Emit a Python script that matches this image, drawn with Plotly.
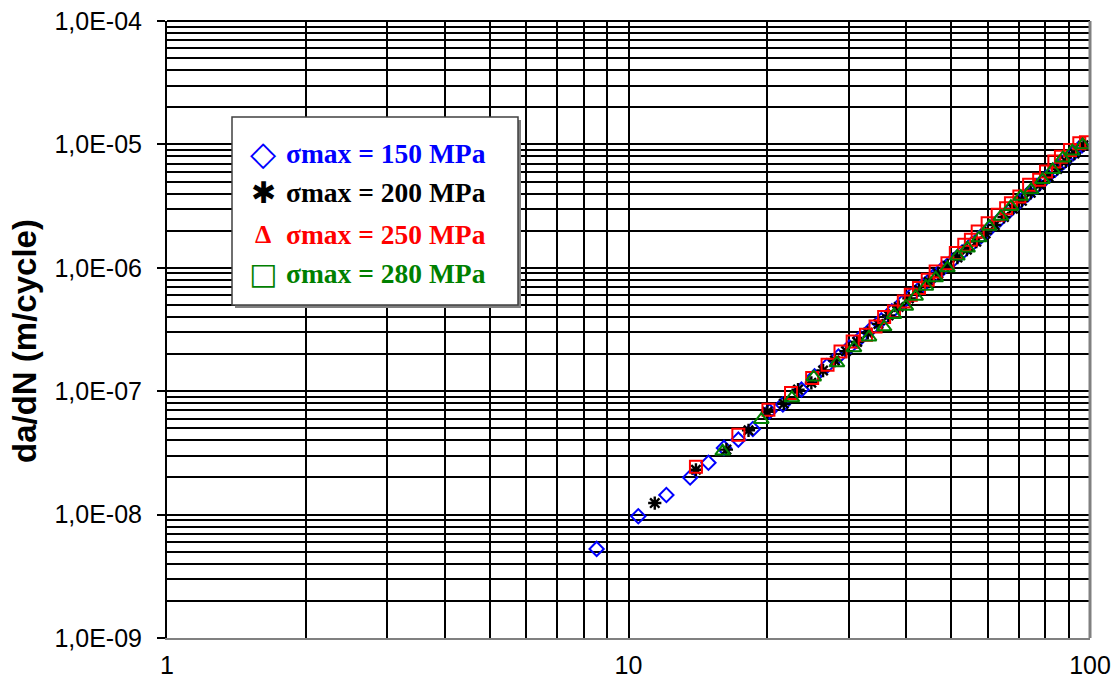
import plotly.graph_objects as go

# ---------------- data ----------------
dk_150 = [8.53, 10.5, 12.08, 13.6, 14.9, 16.1, 17.3, 18.6, 20.2, 21.6, 23.7, 25.3, 26.9, 28.5, 30.1,
          31.8, 33.5, 35.3, 37.2, 39.2, 41.3, 43.4, 45.6, 47.9, 50.3, 52.8, 55.4, 58.1, 60.9, 63.8,
          66.8, 70.0, 73.3, 76.7, 80.3, 84.0, 87.9, 92.0, 96.2]
dadn_150 = [5.27e-9, 9.7e-9, 1.44e-8, 2.0e-8, 2.63e-8, 3.47e-8, 4.05e-8, 4.94e-8, 6.87e-8, 7.8e-8,
            1.03e-7, 1.32e-7, 1.60e-7, 1.91e-7, 2.27e-7, 2.70e-7, 3.18e-7, 3.75e-7, 4.43e-7, 5.22e-7,
            6.15e-7, 7.19e-7, 8.40e-7, 9.80e-7, 1.14e-6, 1.33e-6, 1.55e-6, 1.80e-6, 2.11e-6, 2.47e-6,
            2.88e-6, 3.38e-6, 3.94e-6, 4.59e-6, 5.36e-6, 6.24e-6, 7.27e-6, 8.47e-6, 9.85e-6]

dk_200 = [11.4, 14.0, 16.3, 18.2, 20.0, 21.7, 23.3, 24.9, 26.4, 28.0, 29.6, 31.3, 33.0, 34.8, 36.6,
          38.5, 40.5, 42.6, 44.7, 46.9, 49.2, 51.6, 54.1, 56.7, 59.4, 62.2, 65.1, 68.1, 71.2, 74.4,
          77.8, 81.3, 84.9, 88.6, 92.5, 96.8]
dadn_200 = [1.24e-8, 2.31e-8, 3.36e-8, 4.82e-8, 6.8e-8, 7.92e-8, 1.03e-7, 1.17e-7, 1.47e-7, 1.77e-7,
            2.11e-7, 2.51e-7, 2.97e-7, 3.51e-7, 4.11e-7, 4.82e-7, 5.65e-7, 6.62e-7, 7.71e-7, 8.96e-7,
            1.04e-6, 1.21e-6, 1.40e-6, 1.63e-6, 1.90e-6, 2.22e-6, 2.58e-6, 3.01e-6, 3.49e-6, 4.05e-6,
            4.71e-6, 5.46e-6, 6.32e-6, 7.29e-6, 8.43e-6, 9.83e-6]

dk_250 = [14.0, 17.3, 20.1, 22.5, 25.0, 27.0, 28.8, 30.6, 32.7, 34.3, 35.8, 37.6, 39.5, 40.9, 42.6,
          44.5, 46.3, 49.1, 51.2, 53.4, 55.2, 57.1, 60.0, 63.1, 65.8, 67.4, 70.3, 73.8, 77.6, 80.3,
          83.7, 86.5, 90.5, 94.8, 98.0]
dadn_250 = [2.44e-8, 4.44e-8, 7.08e-8, 9.66e-8, 1.28e-7, 1.64e-7, 2.10e-7, 2.53e-7, 2.87e-7, 3.35e-7,
            3.99e-7, 4.43e-7, 5.33e-7, 6.04e-7, 6.85e-7, 8.0e-7, 9.33e-7, 1.09e-6, 1.32e-6, 1.54e-6,
            1.69e-6, 1.97e-6, 2.30e-6, 2.69e-6, 3.04e-6, 3.34e-6, 3.78e-6, 4.70e-6, 5.16e-6, 6.02e-6,
            7.26e-6, 7.96e-6, 9.0e-6, 1.02e-5, 1.04e-5]

dk_280 = [16.0, 19.4, 22.6, 25.2, 28.3, 30.8, 33.2, 35.8, 37.6, 39.9, 41.9, 44.1, 46.3, 49.1, 51.6,
          54.3, 57.5, 60.5, 64.1, 67.4, 70.8, 74.5, 78.9, 83.0, 87.3, 91.5, 96.4]
dadn_280 = [3.26e-8, 5.88e-8, 8.81e-8, 1.30e-7, 1.69e-7, 2.24e-7, 2.74e-7, 3.31e-7, 4.16e-7, 4.86e-7,
            5.86e-7, 7.06e-7, 8.26e-7, 9.95e-7, 1.24e-6, 1.44e-6, 1.74e-6, 2.16e-6, 2.60e-6, 3.13e-6,
            3.78e-6, 4.28e-6, 5.16e-6, 6.22e-6, 7.73e-6, 8.8e-6, 9.91e-6]

legend_labels = ["σmax = 150 MPa", "σmax = 200 MPa", "σmax = 250 MPa", "σmax = 280 MPa"]
legend_symbols = ["◇", "✱", "Δ", "□"]
legend_colors = ["#0000FF", "#000000", "#FF0000", "#008000"]

x_major = [1, 10, 100]
x_major_text = ["1", "10", "100"]
y_major = [1e-9, 1e-8, 1e-7, 1e-6, 1e-5, 1e-4]
y_major_text = ["1,0E-09", "1,0E-08", "1,0E-07", "1,0E-06", "1,0E-05", "1,0E-04"]
y_title = "da/dN (m/cycle)"

# minor grid positions (2..9 in each decade)
x_minor = [m * d for d in (1, 10) for m in range(2, 10)]
y_minor = [m * d for d in (1e-9, 1e-8, 1e-7, 1e-6, 1e-5) for m in range(2, 10)]

fig = go.Figure()
fig.add_trace(go.Scatter(x=dk_150, y=dadn_150, mode="markers", name=legend_labels[0],
                         marker=dict(symbol="diamond-open", size=11, color="#0000FF",
                                     line=dict(width=2, color="#0000FF"))))
fig.add_trace(go.Scatter(x=dk_200, y=dadn_200, mode="markers", name=legend_labels[1],
                         marker=dict(symbol="asterisk-open", size=11, color="#000000",
                                     line=dict(width=2.4, color="#000000"))))
fig.add_trace(go.Scatter(x=dk_250, y=dadn_250, mode="markers", name=legend_labels[2],
                         marker=dict(symbol="square-open", size=12, color="#FF0000",
                                     line=dict(width=2, color="#FF0000"))))
fig.add_trace(go.Scatter(x=dk_280, y=dadn_280, mode="markers", name=legend_labels[3],
                         marker=dict(symbol="triangle-up-open", size=13, color="#008000",
                                     line=dict(width=2, color="#008000"))))

L, R, T, B = 167, 1090, 21, 638
W, H = 1120, 690

fig.update_layout(
    width=W, height=H,
    margin=dict(l=L, r=W - R, t=T, b=H - B, pad=0, autoexpand=False),
    paper_bgcolor="white", plot_bgcolor="white",
    showlegend=False,
    font=dict(family="Liberation Sans, Arial, sans-serif", size=25, color="black"),
)

fig.update_xaxes(
    type="log", range=[0, 2], automargin=False,
    tickvals=x_major, ticktext=x_major_text, ticks="",
    showgrid=True, gridcolor="black", gridwidth=1.5,
    minor=dict(tickvals=x_minor, showgrid=True, gridcolor="black", gridwidth=1.5, ticks=""),
    showline=True, linecolor="#808080", linewidth=2,
    zeroline=False, tickfont=dict(size=25), ticklabelstandoff=4,
)
fig.update_yaxes(
    type="log", range=[-9, -4], automargin=False,
    tickvals=y_major, ticktext=y_major_text,
    ticks="outside", ticklen=8, tickwidth=1.5, tickcolor="black",
    showgrid=True, gridcolor="black", gridwidth=1.5,
    minor=dict(tickvals=y_minor, showgrid=True, gridcolor="black", gridwidth=1.5, ticks=""),
    showline=True, linecolor="black", linewidth=2,
    zeroline=False, tickfont=dict(size=25), ticklabelstandoff=10,
)

def px(xp):
    return (xp - L) / (R - L)

def py(yp):
    return (B - yp) / (B - T)

shapes = [
    # frame: top (black) and right (grey)
    dict(type="line", xref="paper", yref="paper", x0=0, x1=1, y0=1, y1=1,
         line=dict(color="black", width=2), layer="above"),
    dict(type="line", xref="paper", yref="paper", x0=1, x1=1, y0=0, y1=1,
         line=dict(color="#808080", width=3), layer="above"),
    # legend box shadow + box
    dict(type="rect", xref="paper", yref="paper", x0=px(235), x1=px(521), y0=py(308), y1=py(120),
         fillcolor="#808080", line=dict(width=0), layer="above"),
    dict(type="rect", xref="paper", yref="paper", x0=px(232), x1=px(518), y0=py(305), y1=py(117),
         fillcolor="white", line=dict(color="#404040", width=1.5), layer="above"),
]

annotations = []
line_y = [153, 192, 234, 273]
sym_fonts = ["DejaVu Sans", "DejaVu Sans", "Liberation Serif", "DejaVu Sans"]
sym_sizes = [34, 30, 26, 30]
for i in range(4):
    annotations.append(dict(xref="paper", yref="paper", x=px(263), y=py(line_y[i]),
                            text=legend_symbols[i], showarrow=False, xanchor="center", yanchor="middle",
                            font=dict(family=sym_fonts[i], size=sym_sizes[i], color=legend_colors[i],
                                      weight="bold")))
    annotations.append(dict(xref="paper", yref="paper", x=px(284), y=py(line_y[i]),
                            text=legend_labels[i], showarrow=False, xanchor="left", yanchor="middle",
                            font=dict(family="Liberation Serif, Times New Roman, serif", size=27.5,
                                      color=legend_colors[i], weight="bold")))

annotations.append(dict(xref="paper", yref="paper", x=px(24), y=py(341), text=y_title,
                        textangle=-90, showarrow=False, xanchor="center", yanchor="middle",
                        font=dict(family="Liberation Sans, Arial, sans-serif", size=33,
                                  color="black", weight="bold")))

fig.update_layout(shapes=shapes, annotations=annotations)

fig.write_html("out.html", config={"displayModeBar": False},
               post_script="document.body.style.margin='0';")
